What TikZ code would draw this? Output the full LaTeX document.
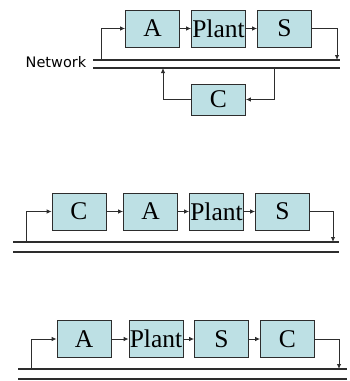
\documentclass[tikz,border=0pt]{standalone}
\usepackage{fontspec}
\setmainfont{Liberation Serif}
\newfontfamily\netfont{DejaVu Sans}
\usetikzlibrary{arrows.meta}

\definecolor{boxfill}{RGB}{189,224,228}
\definecolor{wire}{RGB}{45,45,45}

\tikzstyle{blk} = [draw=wire, fill=boxfill, line width=0.8pt, minimum width=54pt, minimum height=37pt, inner sep=0pt, font=\fontsize{25.5}{25.5}\selectfont]
\tikzstyle{bus} = [draw=wire, line width=1.4pt]
\tikzstyle{arw} = [-{Latex[length=5pt,width=4.5pt]}, draw=wire, line width=0.9pt]

\begin{document}
\begin{tikzpicture}[x=1pt,y=-1pt]
\useasboundingbox (0,0) rectangle (349,381);

% network with controller on the other side
\node[font=\netfont\fontsize{14.5}{14.5}\selectfont] (net) at (56,62) {Network};
\draw[bus] (93,60) -- (340,60);
\draw[bus] (93,68) -- (340,68);
\coordinate (inA) at (101,60);
\coordinate (outS) at (337,60);
\coordinate (inC) at (274,68);
\coordinate (outC) at (163,68);

\node[blk] (A1) at (152.5,28.5) {A};
\node[blk] (P1) at (218.5,28.5) {Plant};
\node[blk] (S1) at (284.5,28.5) {S};
\node[blk, minimum height=31pt] (C1) at (218.5,99.5) {C};

\draw[arw] (inA) |- (A1);
\draw[arw] (A1) -- (P1);
\draw[arw] (P1) -- (S1);
\draw[arw] (S1.east) -| (outS);
\draw[arw] (inC) |- (C1.east);
\draw[arw] (C1.west) -| (outC);

% controller before the actuator
\draw[bus] (13,242) -- (339,242);
\draw[bus] (13,252) -- (339,252);
\coordinate (inC2) at (26,242);
\coordinate (outS2) at (333,242);

\node[blk] (C2) at (79,211.5) {C};
\node[blk] (A2) at (150.5,211.5) {A};
\node[blk] (P2) at (216.5,211.5) {Plant};
\node[blk] (S2) at (282.5,211.5) {S};

\draw[arw] (inC2) |- (C2);
\draw[arw] (C2) -- (A2);
\draw[arw] (A2) -- (P2);
\draw[arw] (P2) -- (S2);
\draw[arw] (S2.east) -| (outS2);

% controller after the sensor
\draw[bus] (18,369) -- (347,369);
\draw[bus] (18,379) -- (347,379);
\coordinate (inA3) at (31,369);
\coordinate (outC3) at (339,369);

\node[blk] (A3) at (84,339) {A};
\node[blk] (P3) at (156,339) {Plant};
\node[blk] (S3) at (221.5,339) {S};
\node[blk] (C3) at (287.5,339) {C};

\draw[arw] (inA3) |- (A3);
\draw[arw] (A3) -- (P3);
\draw[arw] (P3) -- (S3);
\draw[arw] (S3) -- (C3);
\draw[arw] (C3.east) -| (outC3);

\end{tikzpicture}
\end{document}
